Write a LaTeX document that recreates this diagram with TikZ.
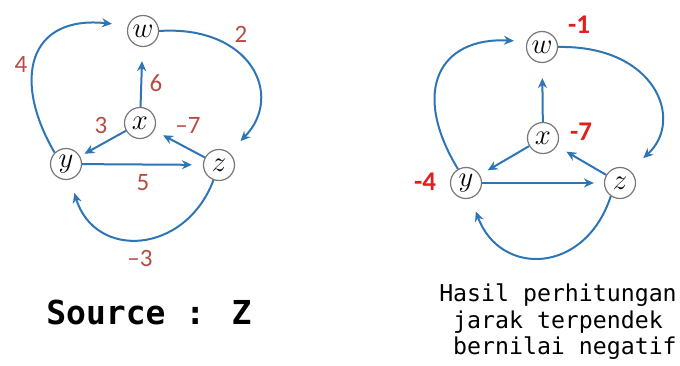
\documentclass[tikz,border=0pt]{standalone}
\usepackage{fontspec}
\usepackage{tikz}
\usetikzlibrary{arrows.meta}
\newfontfamily\labelfont{Carlito}
\newfontfamily\monofont{DejaVu Sans Mono}
\definecolor{edgeblue}{RGB}{46,117,182}
\definecolor{weightred}{RGB}{184,76,66}
\definecolor{distred}{RGB}{226,30,30}
\definecolor{circlegray}{RGB}{120,120,120}
\tikzset{
    vertex_style/.style={
        circle,                 % simpul berbentuk lingkaran
        draw=circlegray,        % warna tepi
        line width=0.6pt,
        fill=white,
        minimum size=15.5pt,
        inner sep=0pt,
        font=\Large
    },
    edge_style/.style={
        -{Stealth[length=5pt, width=4.5pt]},
        draw=edgeblue,
        line width=1pt
    },
    weight_style/.style={
        text=weightred,
        inner sep=0pt,
        font=\labelfont\fontsize{12.5}{12.5}\selectfont
    },
    dist_style/.style={
        text=distred,
        inner sep=0pt,
        font=\labelfont\bfseries\fontsize{13.5}{13.5}\selectfont
    }
}
\begin{document}
\begin{tikzpicture}[x=0.5pt, y=0.5pt]
    \useasboundingbox (0,0) rectangle (680,365);
    % 1. graf kiri: simpul
    \node[vertex_style] (w1) at (143,334) {$w$};
    \node[vertex_style] (x1) at (140,242) {$x$};
    \node[vertex_style] (y1) at (66,201) {$y$};
    \node[vertex_style] (z1) at (219,200) {$z$};

    % 2. graf kiri: sisi berarah
    \draw[edge_style, shorten >=8pt] (y1.135) .. controls (12,285) and (28,350) .. (w1.160);
    \draw[edge_style, shorten >=8pt] (w1.east) .. controls (250,340) and (285,270) .. (z1.50);
    \draw[edge_style, shorten >=7pt] (x1) -- (w1);
    \draw[edge_style, shorten >=2.5pt] (x1) -- (y1);
    \draw[edge_style, shorten >=5pt] (z1) -- (x1);
    \draw[edge_style, shorten >=5.5pt] (y1) -- (z1);
    \draw[edge_style, shorten >=7pt] (z1.-110) .. controls (185,110) and (95,105) .. (y1.-75);

    % 3. graf kiri: bobot
    \node[weight_style] (b4) at (21,301) {4};
    \node[weight_style] (b2) at (241,331) {2};
    \node[weight_style] (b6) at (156,282) {6};
    \node[weight_style] (b3) at (101,240) {3};
    \node[weight_style] (bm7) at (188,240) {–7};
    \node[weight_style] (b5) at (143,182) {5};
    \node[weight_style] (bm3) at (140,107) {–3};

    % 4. graf kanan: simpul
    \node[vertex_style] (w2) at (542,318) {$w$};
    \node[vertex_style] (x2) at (543,227) {$x$};
    \node[vertex_style] (y2) at (466,182) {$y$};
    \node[vertex_style] (z2) at (620,182) {$z$};

    % 5. graf kanan: sisi berarah
    \draw[edge_style, shorten >=6.5pt] (y2.120) .. controls (410,275) and (440,328) .. (w2.160);
    \draw[edge_style, shorten >=9pt] (w2.east) .. controls (655,320) and (685,245) .. (z2.52);
    \draw[edge_style, shorten >=7.5pt] (x2) -- (w2);
    \draw[edge_style, shorten >=4.5pt] (x2) -- (y2);
    \draw[edge_style, shorten >=5.5pt] (z2) -- (x2);
    \draw[edge_style, shorten >=5pt] (y2) -- (z2);
    \draw[edge_style, shorten >=7pt] (z2.235) .. controls (585,90) and (500,88) .. (y2.-72);

    % 6. graf kanan: jarak terpendek
    \node[dist_style] (dw) at (579,340) {-1};
    \node[dist_style] (dx) at (581,233) {-7};
    \node[dist_style] (dy) at (425,183) {-4};

    % 7. keterangan
    \node[font=\monofont\bfseries\fontsize{16.5}{18}\selectfont] (src) at (149,53) {Source : Z};
    \node[align=center, font=\monofont\fontsize{11.6}{13.25}\selectfont] (note) at (558,43)
        {Hasil perhitungan\\jarak terpendek\\\hspace*{0.6em}bernilai negatif};
\end{tikzpicture}
\end{document}
